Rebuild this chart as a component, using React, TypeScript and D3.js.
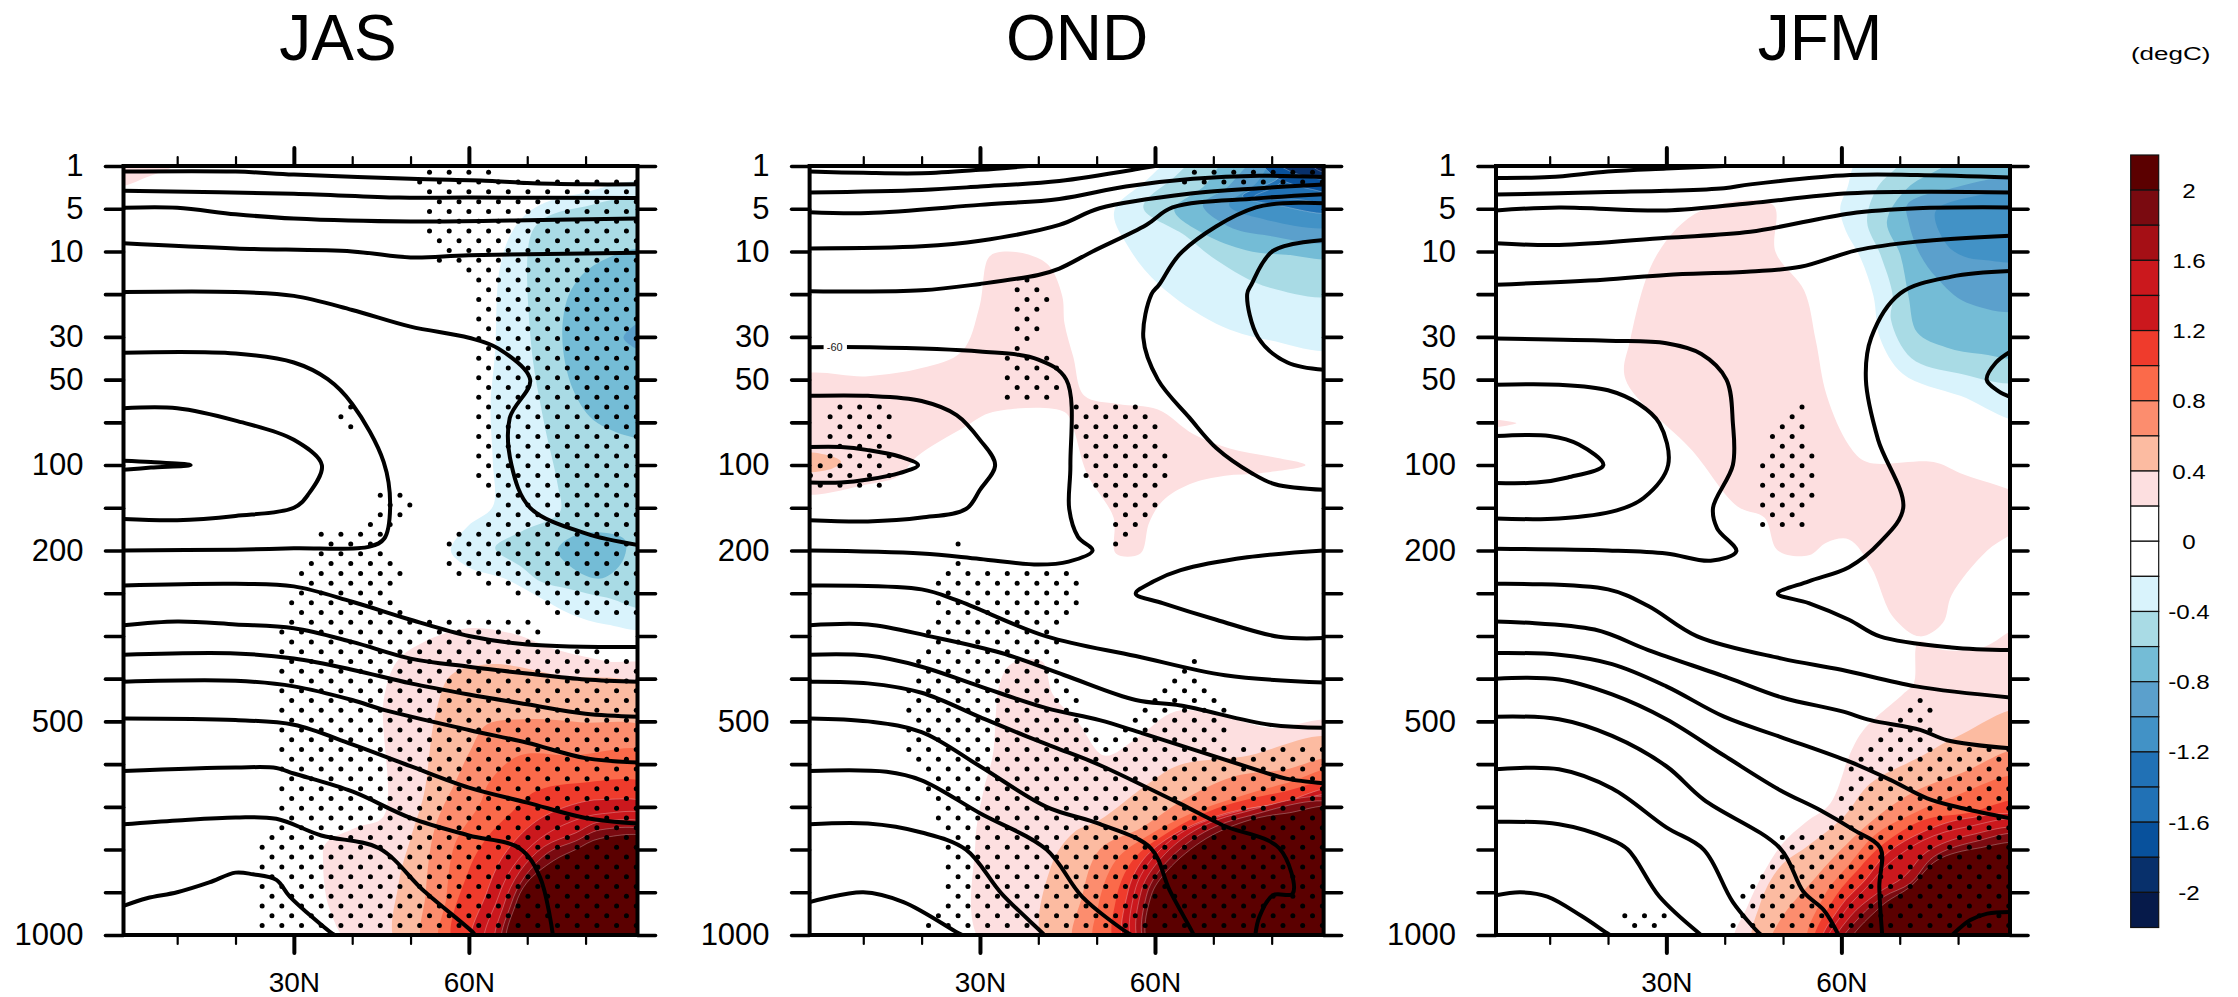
import React, { useEffect, useRef } from 'react';
import * as d3 from 'd3';

type Pt = [number, number];

// coordinates below are [latitude, index into pressureLevels]
const pressureLevels = [1, 5, 10, 20, 30, 50, 70, 100, 150, 200, 250, 300, 400, 500, 600, 700, 850, 925, 1000];
const labelledLevels = [1, 5, 10, 30, 50, 100, 200, 500, 1000];
const minorLats = [10, 20, 40, 50, 70, 80];
const majorLats = [30, 60];
const seasons = ['JAS', 'OND', 'JFM'];

const barBoxes = [
  '#5b0000', '#7a0a10', '#a50f15', '#cb181d', '#cb181d', '#ef3b2c', '#fb6a4a', '#fc8d6e', '#fcbba1', '#fddfe0', '#ffffff',
  '#ffffff', '#d9f3fc', '#a9dbe5', '#74bcd6', '#5ba0cc', '#4292c6', '#2171b5', '#2171b5', '#08519c', '#08306b', '#061a4a',
];
const barLabels = ['2', '1.6', '1.2', '0.8', '0.4', '0', '-0.4', '-0.8', '-1.2', '-1.6', '-2'];
const bandKeys = [2, 1.8, 1.6, 1.4, 1.2, 1, 0.8, 0.6, 0.4, 0.2, 0.1, -0.1, -0.2, -0.4, -0.6, -0.8, -1, -1.2, -1.4, -1.6, -1.8, -2];

// ---- JAS
const jasContours: Pt[][] = [
  [[0.8, 0.13], [20, 0.13], [30, 0.2], [50, 0.3], [64, 0.35], [70, 0.4], [80, 0.43], [89, 0.43]],
  [[0.8, 0.58], [30, 0.65], [48, 0.74], [60, 0.74], [89, 0.75]],
  [[0.8, 0.98], [10, 0.98], [20, 1.13], [30, 1.23], [50, 1.3], [70, 1.27], [89, 1.23]],
  [[0.8, 1.81], [20, 1.93], [40, 2.0], [50, 2.14], [60, 2.09], [89, 2.03]],
  [[0.8, 2.95], [20, 2.95], [30, 3.04], [40, 3.37], [50, 3.76], [60, 4.02], [65, 4.27], [70.5, 5], [67, 5.9], [67.3, 7], [70.5, 8], [80, 8.6], [89, 8.87]],
  [[0.8, 4.37], [20, 4.39], [30, 4.6], [35.8, 4.99], [40, 5.57], [45.4, 6.93], [46.5, 8], [45.5, 8.72], [43, 8.91], [30, 8.95], [20, 8.98], [0.8, 9]],
  [[0.8, 5.67], [10, 5.67], [20, 5.96], [30, 6.41], [34.8, 7], [32.4, 7.7], [30, 8], [20, 8.19], [10, 8.29], [0.8, 8.26]],
  [[0.8, 6.9], [5.5, 6.93], [12.3, 7], [5.5, 7.06], [0.8, 7.11]],
  [[0.8, 9.82], [20, 9.78], [30, 9.84], [40, 10.2], [50, 10.62], [60, 11], [70, 11.2], [89, 11.26]],
  [[0.8, 10.75], [10, 10.66], [20, 10.73], [30, 10.82], [40, 11.14], [50, 11.53], [60, 11.72], [70, 11.88], [80, 12.02], [89, 12.07]],
  [[0.8, 11.44], [20, 11.41], [30, 11.53], [40, 11.79], [50, 12.11], [60, 12.37], [70, 12.6], [80, 12.82], [89, 12.89]],
  [[0.8, 12.07], [20, 12.05], [30, 12.18], [40, 12.5], [45.4, 12.73], [60, 13.2], [70, 13.5], [80, 13.86], [89, 13.96]],
  [[0.8, 12.93], [20, 12.97], [30, 13.08], [40, 13.54], [50, 14.05], [60, 14.55], [70, 14.9], [80, 15.26], [89, 15.39]],
  [[0.8, 14.16], [20, 14.08], [27, 14.09], [30, 14.22], [40, 14.64], [50, 15.26], [60, 15.67], [68.7, 15.97], [72.2, 16.65], [74.4, 18]],
  [[0.8, 15.41], [10, 15.32], [20, 15.25], [27, 15.28], [34.7, 15.67], [44.6, 15.97], [52.3, 16.97], [60.7, 17.94], [61, 18]],
  [[0.8, 17.32], [4.8, 17.14], [10, 17], [15.5, 16.77], [20, 16.54], [23, 16.58], [27, 16.71], [29.3, 17.1], [36.6, 17.97], [37, 18]],
];
const jasBands: [number, Pt[]][] = [
  [0.2, [[0, -0.1], [11, -0.1], [8, 0.1], [5, 0.25], [0, 0.45]]],
  [-0.2, [[92, 0.52], [79, 0.65], [71.4, 0.97], [67.6, 1.49], [65.3, 2.4], [64.5, 4.34], [63.7, 5.63], [64.1, 6.93], [64.1, 7.97], [59.9, 8.42], [56.9, 9], [59.9, 9.39], [66, 9.65], [71.4, 10.04], [77.5, 10.49], [83.6, 10.73], [92, 10.73]]],
  [-0.4, [[92, 0.91], [79, 0.97], [72.9, 1.23], [70.6, 1.62], [70.6, 4.08], [72.9, 6.02], [75.2, 7.45], [75.6, 8.1], [69.1, 8.55], [64.5, 8.94], [69.1, 9.39], [72.2, 9.72], [77.5, 9.91], [83.6, 10.1], [92, 10.3]]],
  [-0.6, [[92, 2], [82.1, 2.27], [77.5, 2.91], [76, 3.95], [77.9, 5.25], [82.1, 6.02], [92, 6.28]]],
  [-0.6, [[75.2, 9], [79, 8.61], [86.7, 8.74], [86.3, 9.26], [82.9, 9.65], [79, 9.52]]],
  [-0.8, [[92, 3.5], [86.5, 4.02], [92, 4.4]]],
  [0.2, [[40.8, 18.3], [36.2, 17.42], [35, 16.26], [35.4, 15.87], [40.8, 15.48], [45.4, 15.22], [45.4, 12.5], [47.7, 11.59], [52.3, 11.14], [59.9, 10.82], [67.6, 10.95], [75.2, 11.33], [83.6, 11.59], [92, 11.79], [92, 18.3]]],
  [0.4, [[48, 18.3], [48, 16.77], [50, 15.74], [52.3, 14.7], [54.2, 12.89], [56.9, 11.92], [63.7, 11.66], [75.2, 11.92], [92, 12.37], [92, 18.3]]],
  [0.6, [[52.6, 18.3], [52.6, 17.03], [54.2, 15.48], [57.6, 14.44], [60.3, 13.67], [63, 13.08], [69.9, 12.95], [79, 13.02], [92, 13.28], [92, 18.3]]],
  [0.8, [[55.3, 18.3], [56.1, 17.16], [57.6, 15.87], [61.8, 14.96], [63.7, 14.38], [68.7, 13.8], [77.5, 13.8], [92, 13.8], [92, 18.3]]],
  [1, [[57.6, 18.3], [59.9, 16.52], [63, 15.74], [67.6, 15.09], [71.4, 14.64], [79, 14.44], [92, 14.57], [92, 18.3]]],
  [1.2, [[60.7, 18.3], [63, 17.03], [66, 16.13], [71.4, 15.35], [77.5, 14.96], [82.9, 14.83], [92, 15.03], [92, 18.3]]],
  [1.4, [[63, 18.3], [64.9, 17.16], [67.6, 16.39], [72.2, 15.74], [77.5, 15.35], [82.9, 15.16], [92, 15.28], [92, 18.3]]],
  [1.6, [[64.9, 18.3], [66, 17.29], [68.7, 16.52], [72.9, 15.93], [78.3, 15.61], [82.5, 15.35], [92, 15.5], [92, 18.3]]],
  [1.8, [[66, 18.3], [67.2, 17.29], [69.5, 16.65], [73.7, 16.06], [78.3, 15.8], [82.5, 15.54], [92, 15.67], [92, 18.3]]],
  [2, [[66.8, 18.3], [68, 17.29], [69.9, 16.78], [74.5, 16.26], [78.3, 16], [82.5, 15.74], [92, 15.8], [92, 18.3]]],
];
const jasStipple: Pt[][] = [
  [[51.1, 0.39], [52.3, 0.09], [64.1, 0.09], [64.9, 0.3], [89.8, 0.32], [89.8, 10.56], [85.2, 10.56], [75.2, 10.49], [69.9, 10.17], [63, 9.91], [56.1, 9.39], [56.1, 8.81], [61.4, 8.29], [63.7, 7.97], [61.1, 7.45], [61.1, 3.04], [59.2, 2.46], [54.2, 2.2], [52.6, 1.62], [52.6, 0.71]],
  [[37.3, 5.77], [40, 5.44], [40.8, 5.63], [40.8, 6.22], [39.3, 6.15]],
  [[34.3, 8.55], [39.3, 8.59], [42.7, 8.29], [44.2, 7.58], [48.8, 7.58], [50.7, 7.97], [47.3, 8.48], [45.4, 9.07], [48.8, 9.52], [47.3, 10.3], [50.7, 10.56], [59.2, 10.56], [67.6, 10.56], [70.6, 10.23], [72.5, 10.82], [72.5, 11.14], [89.8, 11.46], [89.8, 18.2], [24, 18.2], [24, 15.87], [27.4, 15.48], [27.4, 10.82], [29.3, 10.17], [30.8, 9.46], [34.3, 9.13]],
];

// ---- OND
const ondContours: Pt[][] = [
  [[0.8, 0.13], [10, 0.16], [20, 0.17], [30, 0.09], [38.3, 0]],
  [[0.8, 0.62], [20, 0.56], [30, 0.48], [43.6, 0.35], [57.9, 0.05], [60, 0]],
  [[0.8, 1.08], [10.8, 1.1], [30, 0.91], [43.6, 0.77], [55, 0.48], [66.5, 0.3], [77.9, 0.23], [89, 0.26]],
  [[0.8, 1.93], [20, 1.88], [30, 1.75], [43.6, 1.38], [50.5, 0.99], [66.5, 0.64], [77.9, 0.52], [89, 0.43]],
  [[0.8, 2.93], [20, 2.91], [30, 2.76], [40, 2.55], [43.6, 2.4], [49.3, 2], [58.5, 1.38], [63, 0.97], [77.3, 0.76], [89, 0.66]],
  [[89, 0.87], [77.3, 0.97], [64.7, 2], [60.7, 2.78], [59.4, 3], [58, 4.02], [60.5, 5], [65.9, 5.89], [70.5, 6.6], [76.6, 7.19], [80.6, 7.45], [89, 7.58]],
  [[89, 1.73], [80.2, 1.99], [76.5, 2.78], [75.8, 3], [77.7, 4.02], [82.7, 4.6], [89, 4.77]],
  [[0.8, 9], [20, 9.07], [30, 9.2], [40, 9.33], [45.2, 9.26], [49.3, 9], [46.8, 8.68], [45.3, 8.03], [45.5, 7], [44.8, 5], [40, 4.53], [30, 4.34], [10.8, 4.24], [0.8, 4.24]],
  [[0.8, 5.38], [10.8, 5.38], [20, 5.5], [26, 5.83], [30, 6.41], [32.6, 7], [30, 7.58], [27.6, 8.03], [20, 8.23], [10.8, 8.32], [0.8, 8.29]],
  [[0.8, 6.58], [6.2, 6.58], [10.8, 6.65], [16.2, 6.8], [19.4, 7], [16.2, 7.19], [10.8, 7.34], [6.2, 7.41], [0.8, 7.41]],
  [[89, 9], [75.8, 9.16], [64.4, 9.46], [59.8, 9.72], [56.7, 10.01], [61.3, 10.23], [70.5, 10.62], [81.2, 11.02], [89, 11.05]],
  [[0.8, 9.82], [20, 9.91], [26.1, 10.17], [41.4, 11.01], [56.7, 11.47], [72, 11.92], [89, 12.09]],
  [[0.8, 10.75], [10.8, 10.73], [21.5, 11.01], [33.7, 11.4], [44.5, 11.92], [56.7, 12.5], [64.4, 12.63], [79.7, 13.08], [89, 13.15]],
  [[0.8, 11.44], [10.8, 11.46], [20, 11.72], [30, 12.18], [41.4, 12.69], [50.5, 12.97], [57.9, 13.28], [78.5, 14.18], [82.5, 14.34], [89, 14.45]],
  [[0.8, 12.07], [10.8, 12.11], [20, 12.33], [30, 12.9], [38, 13.35], [45, 13.72], [50.5, 14.02], [64.2, 14.92], [71.6, 15.43], [81.3, 15.97], [83.6, 17.03], [80.2, 17.07], [77.9, 17.57], [77.2, 18]],
  [[0.8, 12.93], [10.8, 13], [20, 13.25], [30, 14.05], [41.4, 15], [50.5, 15.4], [59.3, 15.97], [62.5, 16.95], [66.5, 17.96], [66.6, 18]],
  [[0.8, 14.16], [14, 14.18], [20, 14.38], [30, 15.15], [41.4, 16], [47.5, 17.1], [55.2, 17.94], [56, 18]],
  [[0.8, 15.41], [10.8, 15.39], [20, 15.6], [27.6, 16], [33.7, 17.03], [40.6, 17.94], [41, 18]],
  [[0.8, 17.23], [10, 17], [16.9, 17.23], [26.1, 17.94], [27, 18]],
];
const ondBands: [number, Pt[]][] = [
  [0.2, [[31.5, 2.14], [33.7, 2.01], [38.3, 2.07], [41.8, 2.33], [44.1, 3.04], [44.5, 3.69], [46, 4.47], [47.9, 5.38], [53.6, 5.57], [60.5, 5.7], [66.6, 6.28], [72.8, 6.61], [79.7, 6.8], [85.8, 7], [78.1, 7.19], [72, 7.25], [65.9, 7.45], [61.3, 7.84], [59, 8.35], [57.5, 9.07], [53.3, 9.07], [52.9, 8.23], [48.3, 7.19], [46, 6.15], [44.5, 5.76], [32.2, 5.76], [27.6, 6.09], [19.2, 6.8], [16.2, 7.25], [10.8, 7.45], [-2, 7.58], [-2, 4.99], [10.8, 4.92], [20, 4.73], [26.9, 4.34], [29.9, 3.3]]],
  [0.4, [[-1, 6.74], [4.7, 6.8], [6.2, 6.93], [4.7, 7.08], [-1, 7.12]]],
  [0.2, [[31, 18.3], [29.2, 15.87], [30.7, 14.57], [32.2, 13.8], [33.4, 12.11], [35.3, 11.66], [40.6, 11.59], [42.5, 12.37], [46.8, 13.02], [51.3, 13.8], [56.7, 13.41], [63.6, 12.76], [72, 12.89], [79.7, 13.15], [92, 13.08], [92, 18.3]]],
  [0.4, [[41.4, 18.3], [42.2, 16.39], [46, 15.61], [50.5, 15.31], [59, 14.44], [64.2, 14.02], [75, 13.83], [92, 13.46], [92, 18.3]]],
  [0.6, [[46.4, 18.3], [47.5, 17.1], [50.5, 16], [57.9, 15.47], [64.8, 14.84], [73.3, 14.3], [81.9, 14.14], [92, 13.93], [92, 18.3]]],
  [0.8, [[50, 18.3], [50.3, 17.3], [53.3, 16.25], [59, 15.66], [67, 15.11], [74.5, 14.76], [82.5, 14.45], [92, 14.16], [92, 18.3]]],
  [1, [[53.6, 18.3], [53.3, 17.18], [56.2, 16.25], [62.5, 15.58], [70.5, 15.04], [81.9, 14.65], [92, 14.47], [92, 18.3]]],
  [1.2, [[55.3, 18.3], [55.3, 17.03], [57.9, 16.25], [63.6, 15.62], [72.2, 15.15], [81.3, 14.92], [92, 14.63], [92, 18.3]]],
  [1.4, [[56.8, 18.3], [56.5, 17], [59.3, 16.25], [65.3, 15.54], [75, 15.08], [82.5, 14.92], [92, 14.78], [92, 18.3]]],
  [1.6, [[57.9, 18.3], [57.6, 17], [60.5, 16.29], [66.5, 15.58], [74.5, 15.15], [92, 14.9], [92, 18.3]]],
  [1.8, [[58.8, 18.3], [58.5, 17.1], [61.3, 16.4], [67.6, 15.66], [75.6, 15.23], [92, 15], [92, 18.3]]],
  [2, [[59.3, 18.3], [59.3, 17.1], [62.2, 16.48], [68.8, 15.74], [76.2, 15.31], [82.5, 15.15], [92, 15.08], [92, 18.3]]],
  [-0.2, [[64, -0.2], [58, 0.4], [53, 1.07], [55.6, 1.93], [60.7, 2.78], [70.5, 3.69], [79.7, 4.08], [92, 4.2], [92, -0.2]]],
  [-0.4, [[68, -0.2], [63, 0.3], [58, 0.97], [65.1, 1.62], [70.5, 2.2], [79.7, 2.85], [92, 2.93], [92, -0.2]]],
  [-0.6, [[73, -0.2], [68.2, 0.5], [63.3, 1.03], [68.7, 1.61], [75.6, 1.97], [82.5, 2.08], [92, 2.08], [92, -0.2]]],
  [-0.8, [[78, -0.2], [72.2, 0.52], [68.2, 0.91], [72.7, 1.42], [78.5, 1.61], [92, 1.69], [92, -0.2]]],
  [-1, [[81, -0.2], [77.3, 0.41], [72.7, 0.91], [77.3, 1.2], [92, 1.34], [92, -0.2]]],
  [-1.2, [[85, -0.2], [80.7, 0.33], [75, 0.7], [80.7, 0.91], [92, 1.03], [92, -0.2]]],
  [-1.4, [[86, -0.2], [81, 0.45], [77, 0.72], [84, 0.78], [92, 0.8], [92, -0.2]]],
  [-1.6, [[78, -0.2], [80, 0.2], [83, 0.4], [87, 0.55], [92, 0.63], [92, -0.2]]],
  [-1.8, [[80, -0.2], [84, 0.17], [92, 0.27], [92, -0.2]]],
  [-2, [[86, -0.2], [88, 0.1], [92, 0.15], [92, -0.2]]],
];
const ondStipple: Pt[][] = [
  [[64.4, 0.45], [66.3, 0.04], [89.5, 0.04], [89.5, 0.45]],
  [[35.7, 2.85], [38, 2.55], [42.5, 3.04], [40.6, 3.43], [39.5, 4.27], [44.1, 4.66], [42.5, 5.57], [34.1, 5.5], [34.1, 4.47], [35.7, 4.27]],
  [[5.8, 5.53], [13.5, 5.53], [15.2, 5.89], [15.2, 6.8], [16.2, 6.99], [13.9, 7.58], [2.4, 7.58], [0.4, 7.32], [0.4, 6.93], [3.9, 6.41], [3.9, 5.83]],
  [[46, 5.57], [57.1, 5.57], [60.5, 6.02], [62.4, 6.93], [62.4, 7.25], [60.5, 7.97], [55.6, 8.61], [52.9, 8.94], [52.9, 8.23], [47.5, 7.45], [47.5, 6.8], [44.5, 5.96]],
  [[25.7, 8.77], [27.2, 8.77], [27.2, 9.2], [23.4, 9.46], [22.3, 9.78], [22.3, 10.43], [20.7, 10.88], [19.2, 11.59], [17.3, 12.24], [17.3, 13.6], [20.7, 14.57], [24.2, 16], [24.2, 17.03], [20.4, 17.81], [20.4, 18.07], [89.6, 18.07], [89.6, 13.54], [72.4, 13.54], [72, 12.76], [70.1, 12.5], [67, 11.53], [62.8, 11.98], [57.9, 12.76], [51.7, 13.6], [48.3, 12.82], [46, 12.37], [43.7, 11.59], [43.3, 10.88], [47.1, 10.43], [47.5, 9.46], [27.6, 9.39]],
];

// ---- JFM
const jfmContours: Pt[][] = [
  [[0.8, 0.28], [10, 0.26], [20, 0.13], [30, 0.06], [39.9, 0]],
  [[0.8, 0.67], [20, 0.61], [30, 0.58], [39.9, 0.52], [44.4, 0.43], [61.5, 0.21], [73, 0.21], [89, 0.27]],
  [[0.8, 1.04], [11.6, 0.97], [30, 1.04], [44.4, 0.87], [61.5, 0.64], [89, 0.62]],
  [[0.8, 1.81], [11.6, 1.85], [30, 1.68], [44.4, 1.54], [61.5, 1.11], [73, 0.99], [89, 0.97]],
  [[0.8, 2.78], [19.2, 2.66], [30, 2.55], [44.4, 2.47], [53, 2.36], [62.7, 1.97], [73, 1.77], [89, 1.63]],
  [[0.8, 4.04], [20, 4.09], [30, 4.15], [36, 4.4], [40.3, 5], [41.4, 6.02], [41.4, 7], [38, 8], [38.7, 8.48], [42, 9.02], [37.6, 9.24], [30, 9.07], [20, 9], [0.8, 8.96]],
  [[0.8, 5.12], [11.6, 5.12], [20, 5.25], [25.3, 5.57], [28.8, 6.02], [30.3, 7], [26.1, 7.77], [21.5, 8.06], [11.6, 8.25], [0.8, 8.25]],
  [[0.8, 6.32], [10, 6.32], [15, 6.52], [19.2, 7], [13.1, 7.29], [7.7, 7.41], [0.8, 7.42]],
  [[89, 2.46], [78.9, 2.59], [70.1, 2.98], [65.1, 4.02], [64.2, 5], [66.3, 6.41], [70.6, 8], [66.6, 8.81], [61.3, 9.39], [54.4, 9.72], [49.1, 10.01], [54.4, 10.23], [61.3, 10.62], [66.6, 11.01], [78.9, 11.27], [89, 11.33]],
  [[89, 4.34], [86.5, 4.6], [84.9, 5], [86.9, 5.27], [89, 5.41]],
  [[0.8, 9.78], [20, 9.91], [26.9, 10.3], [35.3, 11.01], [49.8, 11.53], [60, 11.79], [72.8, 12.18], [89, 12.44]],
  [[0.8, 10.66], [17.7, 10.85], [26.9, 11.33], [40.6, 11.98], [49.8, 12.44], [60, 12.76], [65, 12.97], [73.5, 13.2], [78.1, 13.44], [89, 13.63]],
  [[0.8, 11.4], [11.6, 11.44], [20.7, 11.66], [30, 12.18], [39.9, 12.89], [49.5, 13.36], [61.5, 13.95], [68.4, 14.37], [74.7, 14.8], [81, 15.04], [89, 15.27]],
  [[0.8, 12], [11.6, 12.02], [20.7, 12.37], [30, 12.95], [39.9, 13.8], [49.5, 14.61], [56.4, 15.08], [62.1, 15.54], [66.7, 15.97], [66.5, 16.87], [67, 18]],
  [[0.8, 12.89], [11.6, 12.95], [20.7, 13.34], [30, 14.05], [36.4, 14.83], [49.5, 15.97], [53.5, 16.99], [57, 17.42], [59.5, 18]],
  [[0.8, 14.12], [11.6, 14.12], [20.7, 14.57], [30, 15.48], [36.4, 16], [41.4, 17.23], [46, 17.97], [46.3, 18]],
  [[0.8, 15.35], [11.6, 15.41], [20, 15.74], [23.4, 16], [28.8, 17.1], [35.7, 17.97], [36, 18]],
  [[0.8, 17.07], [5, 17], [9.6, 17.1], [15.4, 17.55], [20, 17.97], [20.4, 18]],
  [[79, 18], [82.1, 17.65], [85, 17.5], [89, 17.46]],
];
const jfmBands: [number, Pt[]][] = [
  [0.2, [[36, 1.04], [48.3, 0.91], [48.7, 2.01], [53.6, 2.91], [55.6, 4.08], [57.5, 5.38], [61.3, 6.54], [64.4, 6.93], [75.8, 6.93], [80.4, 7.19], [92, 7.84], [92, 8.3], [85, 9], [78.9, 10.04], [77.4, 10.69], [73.5, 11.01], [68.9, 10.56], [65.1, 9.39], [61.3, 8.74], [57.5, 8.81], [54.4, 9.11], [49.1, 9], [46.8, 8.23], [42.2, 7.97], [34.5, 6.67], [23, 4.99], [23.8, 4.08], [28.4, 2.07]]],
  [0.2, [[-1, 5.96], [4.3, 6.02], [-1, 6.1]]],
  [0.2, [[41.8, 18.3], [44, 17.3], [49.5, 15.93], [54, 15.35], [58.1, 14.92], [61.5, 13.75], [63.8, 13.2], [70.5, 12.37], [72.4, 12.11], [73.2, 11.14], [77.4, 11.33], [84.2, 11.27], [92, 10.8], [92, 18.3]]],
  [0.4, [[45.2, 18.3], [46, 17.3], [49.5, 16.4], [54.1, 15.93], [60.4, 15.23], [65, 14.45], [73.5, 13.83], [79.8, 13.36], [92, 12.76], [92, 18.3]]],
  [0.6, [[48, 18.3], [49.5, 17.65], [55.2, 16.71], [59.3, 16.09], [66.1, 15.23], [72.4, 14.65], [80.4, 14.22], [92, 13.7], [92, 18.3]]],
  [0.8, [[54.4, 18.3], [57, 17.1], [61.5, 16.32], [66.1, 15.62], [72.4, 15.15], [79.2, 14.76], [92, 14.33], [92, 18.3]]],
  [1, [[55.5, 18.3], [58.4, 17.22], [63.3, 16.4], [67.3, 15.86], [74.1, 15.31], [81.5, 15.15], [92, 14.9], [92, 18.3]]],
  [1.2, [[56.7, 18.3], [59.8, 17.34], [64.1, 16.71], [67.8, 16.09], [74.1, 15.58], [81.5, 15.27], [92, 15.31], [92, 18.3]]],
  [1.4, [[57.5, 18.3], [60.7, 17.42], [64.7, 16.83], [67.8, 16.36], [74.1, 15.78], [81.5, 15.47], [92, 15.39], [92, 18.3]]],
  [1.6, [[58.7, 18.3], [61.5, 17.57], [66.1, 17.03], [70.7, 16.64], [74.7, 16.05], [82.1, 15.66], [92, 15.58], [92, 18.3]]],
  [1.8, [[59.8, 18.3], [63.2, 17.57], [67.3, 17.1], [71.8, 16.79], [75.8, 16.17], [82.7, 15.82], [92, 15.7], [92, 18.3]]],
  [2, [[61.3, 18.3], [66.7, 17.34], [71.8, 16.87], [76.4, 16.25], [83.3, 15.97], [92, 15.93], [92, 18.3]]],
  [-0.2, [[63.3, -0.2], [61, 0.52], [59.8, 0.99], [60.7, 1.5], [63.3, 2.16], [65.5, 3.04], [66.6, 4.02], [70.5, 4.86], [80.4, 5.38], [92, 5.9], [92, -0.2]]],
  [-0.4, [[71.8, -0.2], [69, 0.1], [66.1, 0.52], [64.4, 1.3], [66.7, 2.08], [68.8, 3.04], [68.5, 3.6], [72, 4.5], [80, 4.85], [92, 4.95], [92, -0.2]]],
  [-0.6, [[81, -0.2], [76.4, 0.1], [71.3, 0.52], [67.8, 1.3], [70.1, 2.08], [71.5, 3.04], [73, 3.9], [78, 4.25], [84, 4.4], [92, 4.4], [92, -0.2]]],
  [-0.8, [[92, 0.4], [78, 0.55], [71.3, 0.9], [71.5, 1.3], [73.5, 2.08], [76.4, 2.63], [81.5, 3.2], [92, 3.3]]],
  [-1, [[92, 0.72], [81, 0.76], [76.1, 1.07], [78.1, 1.85], [81, 2.12], [84.4, 2.2], [92, 2.16]]],
];
const jfmStipple: Pt[][] = [
  [[48.3, 5.76], [53.6, 5.5], [54.8, 6.41], [55.9, 6.8], [55.6, 7.45], [54, 8.48], [46, 8.48], [46, 6.93], [48.3, 6.15]],
  [[21.1, 17.81], [23, 17.49], [30.3, 17.49], [28.8, 17.87]],
  [[73.5, 12.44], [76.2, 12.69], [76, 13.45], [89.5, 13.5], [89.5, 18.1], [40.8, 18.1], [41.4, 17.68], [42.9, 17.1], [46.8, 16.58], [49, 15.9], [49.4, 15.6], [57.5, 15.55], [59.5, 15.2], [59.6, 14.8], [61.2, 14.4], [61.2, 14.05], [64.5, 13.55], [69.5, 13], [72, 12.6]],
];

const panels = [
  { title: seasons[0], bands: jasBands, contours: jasContours, stipple: jasStipple },
  { title: seasons[1], bands: ondBands, contours: ondContours, stipple: ondStipple },
  { title: seasons[2], bands: jfmBands, contours: jfmContours, stipple: jfmStipple },
];

const font = '"Liberation Sans", Arial, sans-serif';

const App = () => {
  const svgRef = useRef<SVGSVGElement>(null);

  useEffect(() => {
    const width = 2238, height = 997;
    const lefts = [123.5, 809.6, 1496];
    const titleX = [338, 1077, 1820];
    const plotW = 514, top = 166, bottom = 935;

    const svg = d3.select(svgRef.current);
    svg.selectAll('*').remove();
    svg.attr('width', width).attr('height', height);

    const colorOf = d3.scaleOrdinal<number, string>().domain(bandKeys).range(barBoxes);
    const yLev = d3.scaleLinear().domain([0, pressureLevels.length - 1]).range([top, bottom]);
    const yAxisScale = d3.scalePoint<number>().domain(pressureLevels).range([top, bottom]);

    // stipple lattice of the significance test
    const rows = d3.range(78);
    const columns = d3.range(-18, 10);
    const rowLev = (r: number) => 0.147 + r * 0.229;
    const columnLat = (r: number, k: number) => 60 + (k + (r % 2 ? 0.5 : 0)) * 3.375;

    panels.forEach((panel, i) => {
      const left = lefts[i], right = left + plotW;
      const x = d3.scaleLinear().domain([0.8, 88.9]).range([left, right]);
      const g = svg.append('g');

      g.append('clipPath').attr('id', `plot${i}`).append('rect')
        .attr('x', left).attr('y', top).attr('width', plotW).attr('height', bottom - top);
      const plot = g.append('g').attr('clip-path', `url(#plot${i})`);

      const ring = d3.line<Pt>().x(d => x(d[0])).y(d => yLev(d[1])).curve(d3.curveCatmullRomClosed.alpha(0.5));
      const path = d3.line<Pt>().x(d => x(d[0])).y(d => yLev(d[1])).curve(d3.curveCatmullRom.alpha(0.5));

      plot.append('g').selectAll('path')
        .data(panel.bands)
        .join('path')
        .attr('d', d => ring(d[1]))
        .attr('fill', d => colorOf(d[0]))
        .attr('stroke', d => (Math.abs(d[0]) >= 1.2 ? '#ffffff' : 'none'))
        .attr('stroke-opacity', 0.28)
        .attr('stroke-width', 1);

      const dots: Pt[] = [];
      rows.forEach(r => columns.forEach(k => {
        const p: Pt = [columnLat(r, k), rowLev(r)];
        if (panel.stipple.some(m => d3.polygonContains(m, p))) dots.push(p);
      }));
      plot.append('g').selectAll('circle')
        .data(dots)
        .join('circle')
        .attr('cx', d => x(d[0]))
        .attr('cy', d => yLev(d[1]))
        .attr('r', 2.5)
        .attr('fill', '#000');

      plot.append('g').selectAll('path')
        .data(panel.contours)
        .join('path')
        .attr('d', d => path(d))
        .attr('fill', 'none')
        .attr('stroke', '#000')
        .attr('stroke-width', 4)
        .attr('stroke-linejoin', 'round');

      if (i === 1) {
        // line label on the -60 contour
        g.append('rect').attr('x', x(3.2)).attr('y', yLev(4.24) - 7).attr('width', x(7.2) - x(3.2)).attr('height', 14).attr('fill', '#fff');
        g.append('text').attr('x', x(5.1)).attr('y', yLev(4.24) + 4).attr('text-anchor', 'middle')
          .attr('font-family', font).attr('font-size', 11).attr('fill', '#222').text('-60');
      }

      // axes
      const yLeft = d3.axisLeft(yAxisScale).tickSize(18).tickPadding(22)
        .tickFormat(d => (labelledLevels.includes(d as number) ? String(d) : ''));
      const yRight = d3.axisRight(yAxisScale).tickSize(18).tickFormat(() => '');
      const xTopMinor = d3.axisTop(x).tickValues(minorLats).tickSize(9).tickFormat(() => '');
      const xTopMajor = d3.axisTop(x).tickValues(majorLats).tickSize(18).tickFormat(() => '');
      const xBottomMinor = d3.axisBottom(x).tickValues(minorLats).tickSize(9).tickFormat(() => '');
      const xBottomMajor = d3.axisBottom(x).tickValues(majorLats).tickSize(18).tickPadding(19).tickFormat(d => `${d}N`);

      const addAxis = (axis: any, tx: number, ty: number, w: number, size: number) => {
        const a = g.append('g').attr('transform', `translate(${tx},${ty})`).call(axis);
        a.select('.domain').remove();
        a.selectAll('line').attr('stroke', '#000').attr('stroke-width', w).attr('stroke-linecap', 'round');
        a.selectAll('text').attr('font-family', font).attr('font-size', size).attr('fill', '#000');
        return a;
      };
      addAxis(yLeft, left, 0, 3.6, 31);
      addAxis(yRight, right, 0, 3.6, 1);
      addAxis(xTopMinor, 0, top, 2.2, 1);
      addAxis(xTopMajor, 0, top, 4, 1);
      addAxis(xBottomMinor, 0, bottom, 2.2, 1);
      addAxis(xBottomMajor, 0, bottom, 4, 28);

      // frame
      g.append('rect').attr('x', left).attr('y', top).attr('width', plotW).attr('height', bottom - top)
        .attr('fill', 'none').attr('stroke', '#000').attr('stroke-width', 4);

      g.append('text').attr('x', titleX[i]).attr('y', 60).attr('text-anchor', 'middle')
        .attr('font-family', font).attr('font-size', 64).attr('fill', '#000').text(panel.title);
    });

    // colour bar
    const barX = 2130.7, barW = 28;
    const barY = d3.scaleBand<number>().domain(d3.range(barBoxes.length)).range([155, 927.5]);
    svg.append('g').selectAll('rect')
      .data(barBoxes)
      .join('rect')
      .attr('x', barX)
      .attr('y', (_, i) => barY(i) as number)
      .attr('width', barW)
      .attr('height', barY.bandwidth())
      .attr('fill', d => d)
      .attr('stroke', '#111')
      .attr('stroke-width', 1.2);

    svg.append('g').selectAll('text')
      .data(barLabels)
      .join('text')
      .attr('transform', (_, i) => `translate(2189,${(barY(i * 2 + 1) as number) + 7.5}) scale(1.15,1)`)
      .attr('text-anchor', 'middle')
      .attr('font-family', font)
      .attr('font-size', 21)
      .attr('fill', '#000')
      .text(d => d);

    svg.append('text')
      .attr('transform', 'translate(2170.7,60) scale(1.37,1)')
      .attr('text-anchor', 'middle')
      .attr('font-family', font)
      .attr('font-size', 19)
      .attr('fill', '#000')
      .text('(degC)');
  }, []);

  return <svg ref={svgRef} style={{ position: 'absolute', left: 0, top: 0, display: 'block', background: '#fff' }}></svg>;
};

export default App;
